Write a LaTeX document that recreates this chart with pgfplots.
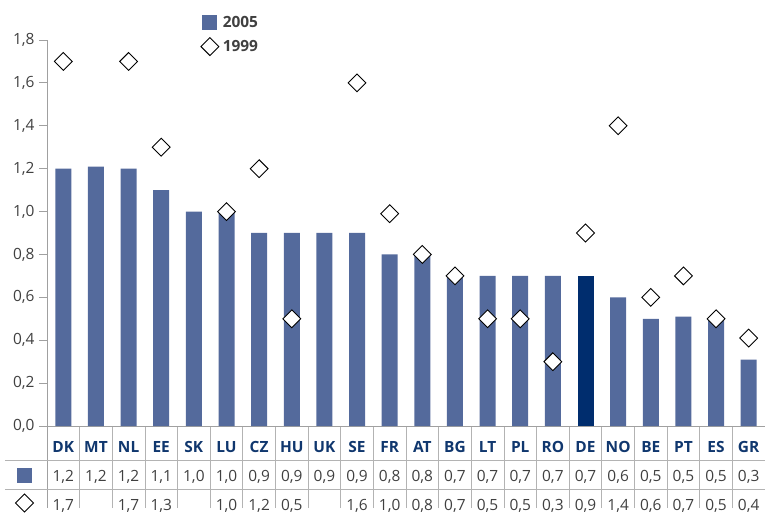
\documentclass[border=0pt]{standalone}
\usepackage{fontspec}
\setmainfont{Open Sans}
\usepackage{pgfplots}
\usepackage{pgfplotstable}
\pgfplotsset{compat=1.18}
\definecolor{barblue}{RGB}{84,106,156}
\definecolor{dkblue}{RGB}{0,45,110}
\definecolor{catblue}{RGB}{16,55,110}
\definecolor{axgray}{RGB}{160,160,160}
\definecolor{txtgray}{RGB}{64,64,64}
\pgfplotsset{
  barleg/.style={legend image code/.code={\fill[barblue] (0bp,-7.5bp) rectangle (15bp,7.5bp);}},
  diamleg/.style={legend image code/.code={\draw[##1] plot coordinates {(7.5bp,0bp)};}},
  diam/.style={only marks, mark=square*, mark size=6.3bp, mark options={rotate=45, fill=white, draw=black, line width=0.9bp}},
}
\pgfplotstableread{
x name v05 v99
0 DK 1.20 1.70
1 MT 1.21 nan
2 NL 1.20 1.70
3 EE 1.10 1.30
4 SK 1.00 nan
5 LU 1.00 1.00
6 CZ 0.90 1.20
7 HU 0.90 0.50
8 UK 0.90 nan
9 SE 0.90 1.60
10 FR 0.80 0.99
11 AT 0.80 0.80
12 BG 0.70 0.70
13 LT 0.70 0.50
14 PL 0.70 0.50
15 RO 0.70 0.30
17 NO 0.60 1.40
18 BE 0.50 0.60
19 PT 0.51 0.70
20 ES 0.50 0.50
21 GR 0.31 0.41
}\data
\pgfplotstableread{
x name v05 v99
16 DE 0.70 0.90
}\dedata
\newcommand{\lab}[3]{\textcolor{catblue}{\textbf{#1}}\\#2\\#3}
\begin{document}
\begin{tikzpicture}
\begin{axis}[
  width=718bp, height=386bp, scale only axis,
  xmin=-0.5, xmax=21.5, ymin=0, ymax=1.8,
  clip=false,
  axis lines=left, axis line style={-, axgray, line width=0.8bp},
  ytick={0,0.2,...,1.8},
  yticklabel style={font=\fontsize{15.5}{18}\selectfont, text=txtgray, xshift=-1bp},
  /pgf/number format/.cd, use comma, fixed, fixed zerofill, precision=1, assume math mode=true,
  /pgfplots/.cd,
  tick align=outside,
  major tick length=8bp,
  y tick style={axgray, line width=0.8bp},
  xtick={0,...,21},
  x tick style={draw=none},
  minor xtick={0.5,1.5,...,20.5},
  minor x tick style={draw=axgray!80, line width=0.8bp},
  minor tick length=82bp,
  xticklabels={
    {\lab{DK}{1,2}{1,7}},{\lab{MT}{1,2}{\phantom{0}}},{\lab{NL}{1,2}{1,7}},{\lab{EE}{1,1}{1,3}},
    {\lab{SK}{1,0}{\phantom{0}}},{\lab{LU}{1,0}{1,0}},{\lab{CZ}{0,9}{1,2}},{\lab{HU}{0,9}{0,5}},
    {\lab{UK}{0,9}{\phantom{0}}},{\lab{SE}{0,9}{1,6}},{\lab{FR}{0,8}{1,0}},{\lab{AT}{0,8}{0,8}},
    {\lab{BG}{0,7}{0,7}},{\lab{LT}{0,7}{0,5}},{\lab{PL}{0,7}{0,5}},{\lab{RO}{0,7}{0,3}},
    {\lab{DE}{0,7}{0,9}},{\lab{NO}{0,6}{1,4}},{\lab{BE}{0,5}{0,6}},{\lab{PT}{0,5}{0,7}},
    {\lab{ES}{0,5}{0,5}},{\lab{GR}{0,3}{0,4}}},
  xticklabel style={font=\fontsize{15.5}{29.5}\selectfont, text=txtgray, align=center, anchor=north, yshift=-3.5bp},
  legend style={at={(rel axis cs:0.21,1.073)}, anchor=north west, draw=none, fill=none,
    font=\fontsize{15.5}{18}\selectfont\bfseries, text=txtgray, row sep=7bp,
    legend cell align=left, nodes={inner xsep=4bp}},
]
\addplot[ybar, bar width=16bp, bar shift=0pt, fill=barblue, draw=none, barleg]
  table[x=x, y=v05] {\data};
\addlegendentry{2005}
\addplot[ybar, bar width=16bp, bar shift=0pt, fill=dkblue, draw=none, forget plot]
  table[x=x, y=v05] {\dedata};
\addplot[diam, unbounded coords=discard, diamleg]
  table[x=x, y=v99] {\data};
\addlegendentry{1999}
\addplot[diam, forget plot]
  table[x=x, y=v99] {\dedata};
\coordinate (BL) at (rel axis cs:0,0);
\coordinate (TR) at (rel axis cs:1,1);
\end{axis}
\draw[axgray, line width=0.8bp] (BL) -- ++(0,-82bp);
\draw[axgray!80, line width=0.8bp] ([xshift=-42bp,yshift=-34bp]BL) -- ([yshift=-34bp]BL -| TR);
\draw[axgray!80, line width=0.8bp] ([xshift=-42bp,yshift=-63bp]BL) -- ([yshift=-63bp]BL -| TR);
\fill[barblue] ([xshift=-30bp,yshift=-57bp]BL) rectangle ([xshift=-15bp,yshift=-42bp]BL);
\draw[black, line width=0.9bp, fill=white] ([xshift=-22.5bp,yshift=-68bp]BL) -- ++(9bp,-9bp) -- ++(-9bp,-9bp) -- ++(-9bp,9bp) -- cycle;
\pgfresetboundingbox
\path[use as bounding box] ([xshift=-47bp,yshift=-88bp]BL) rectangle ([yshift=40bp]TR);
\end{tikzpicture}
\end{document}
